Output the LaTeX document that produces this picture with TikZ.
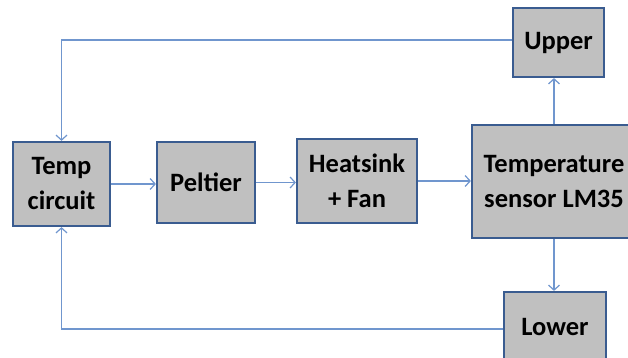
\documentclass[tikz,border=0pt]{standalone}
\usepackage{fontspec}
\setmainfont{Carlito}
\usetikzlibrary{arrows.meta}
\definecolor{boxedge}{RGB}{58,92,144}
\definecolor{boxfill}{RGB}{192,192,192}
\definecolor{linkblue}{RGB}{112,150,206}
\begin{document}
\begin{tikzpicture}[x=1pt,y=-1pt,
  block/.style={draw=boxedge, fill=boxfill, line width=2.2pt, inner sep=0pt,
    font=\bfseries\fontsize{26.5}{35}\selectfont, align=center},
  link/.style={draw=linkblue, line width=1.2pt,
    -{Straight Barb[length=5pt,width=11pt,line width=1.2pt]}}]
\useasboundingbox (0,0) rectangle (628,358);
\begin{scope}
\clip (0,0) rectangle (628,358);
\node[block, minimum width=97pt, minimum height=84pt] (tc) at (61.5,184) {Temp\\circuit};
\node[block, minimum width=98pt, minimum height=81pt] (pel) at (206,182.5) {Peltier};
\node[block, minimum width=120pt, minimum height=84pt] (hs) at (357,181) {Heatsink\\+ Fan};
\node[block, minimum width=164pt, minimum height=113pt] (sen) at (554,181.5) {Temperature\\sensor LM35};
\node[block, minimum width=91pt, minimum height=69pt] (up) at (558.5,42.5) {Upper};
\node[block, minimum width=102pt, minimum height=70pt] (low) at (555,327) {Lower};
\end{scope}
\draw[link] (tc.east) -- (tc.east -| pel.west);
\draw[link] (pel.east) -- (pel.east -| hs.west);
\draw[link] (hs.east) -- (hs.east -| sen.west);
\draw[link] (sen.north) -- (sen.north |- up.south);
\draw[link] (sen.south) -- (sen.south |- low.north);
\draw[link] ([yshift=2.5pt]up.west) -| (tc.north);
\draw[link] ([yshift=-2pt]low.west) -| (tc.south);
\end{tikzpicture}
\end{document}
